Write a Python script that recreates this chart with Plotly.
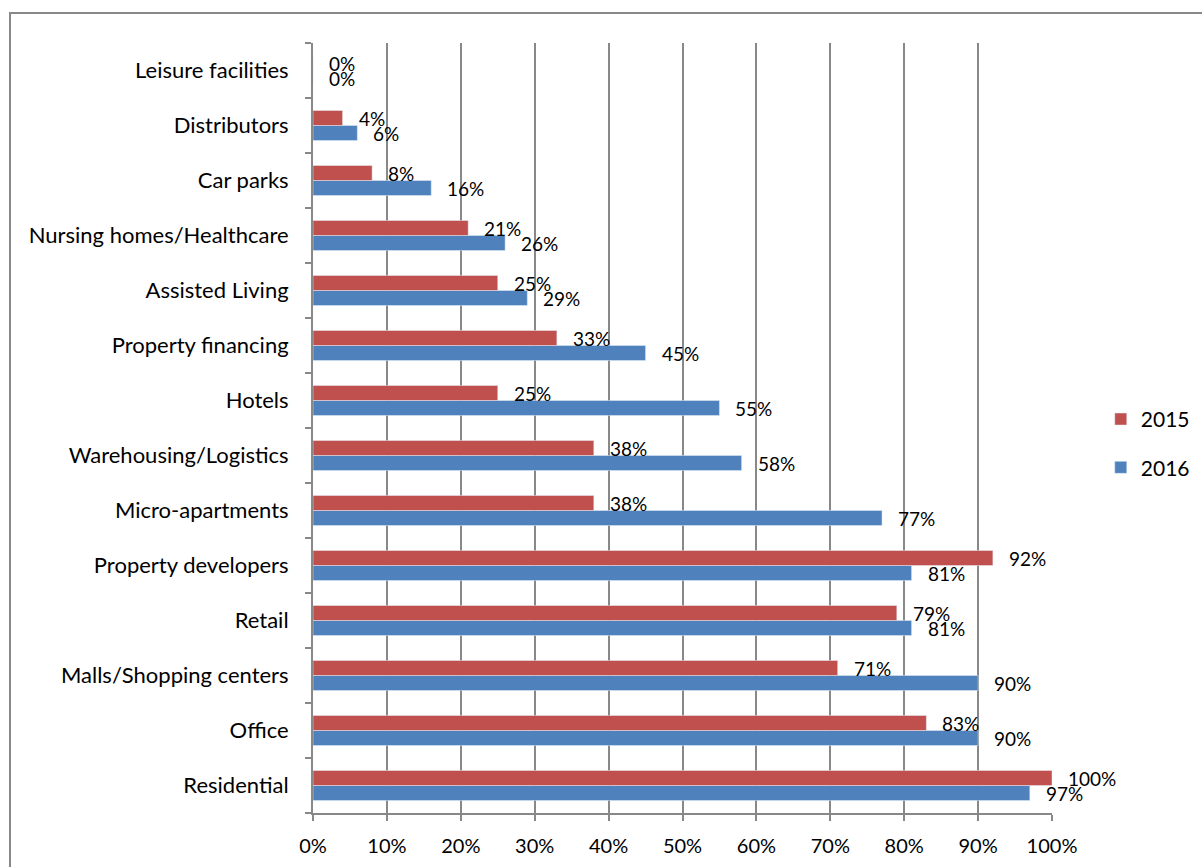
import plotly.graph_objects as go

categories = ["Residential", "Office", "Malls/Shopping centers", "Retail", "Property developers",
              "Micro-apartments", "Warehousing/Logistics", "Hotels", "Property financing",
              "Assisted Living", "Nursing homes/Healthcare", "Car parks", "Distributors",
              "Leisure facilities"]
values_2015 = [100, 83, 71, 79, 92, 38, 38, 25, 33, 25, 21, 8, 4, 0]
values_2016 = [97, 90, 90, 81, 81, 77, 58, 55, 45, 29, 26, 16, 6, 0]
x_ticks = [0, 10, 20, 30, 40, 50, 60, 70, 80, 90, 100]

RED = "#C0504D"
BLUE = "#4F81BD"
GRID = "#888888"
FONT = "Lato"

fig = go.Figure()
fig.add_trace(go.Bar(y=categories, x=values_2016, orientation="h", name="2016",
                     marker=dict(color=BLUE), legendgroup="b", legendrank=2))
fig.add_trace(go.Bar(y=categories, x=values_2015, orientation="h", name="2015",
                     marker=dict(color=RED), legendgroup="a", legendrank=1))

annotations = []
for cat, v15, v16 in zip(categories, values_2015, values_2016):
    annotations.append(dict(x=v15, y=cat, text=f"{v15}%", showarrow=False, xanchor="left",
                            xshift=14, yshift=7.5, font=dict(family=FONT, size=19, color="black")))
    annotations.append(dict(x=v16, y=cat, text=f"{v16}%", showarrow=False, xanchor="left",
                            xshift=14, yshift=-7.5, font=dict(family=FONT, size=19, color="black")))

fig.update_layout(
    width=1202, height=867,
    margin=dict(l=313, r=150, t=43, b=54, autoexpand=False),
    paper_bgcolor="white", plot_bgcolor="white",
    barmode="group", bargap=0.455, bargroupgap=0,
    font=dict(family=FONT, size=20, color="black"),
    annotations=annotations,
    legend=dict(x=1.066, y=0.48, xanchor="left", yanchor="middle",
                traceorder="grouped", tracegroupgap=18, itemwidth=30,
                font=dict(family=FONT, size=21, color="black")),
    shapes=[dict(type="rect", xref="paper", yref="paper", x0=-0.41, y0=-0.09, x1=1.22, y1=1.039,
                 line=dict(color=GRID, width=2), layer="below")],
    xaxis=dict(range=[0, 100], tickvals=x_ticks, ticktext=[f"{t}%" for t in x_ticks],
               showgrid=True, gridcolor=GRID, gridwidth=2, zeroline=False,
               showline=True, linecolor=GRID, linewidth=2,
               ticks="outside", ticklen=6, tickcolor=GRID, tickwidth=2,
               ticklabelstandoff=8,
               tickfont=dict(family=FONT, size=20, color="black")),
    yaxis=dict(range=[-0.5, 13.5], showgrid=False, zeroline=False,
               showline=True, linecolor=GRID, linewidth=2,
               ticks="outside", ticklen=6, tickcolor=GRID, tickwidth=2,
               tickson="boundaries", ticklabelstandoff=18,
               tickfont=dict(family=FONT, size=22, color="black")),
)

fig.write_html("out.html")
